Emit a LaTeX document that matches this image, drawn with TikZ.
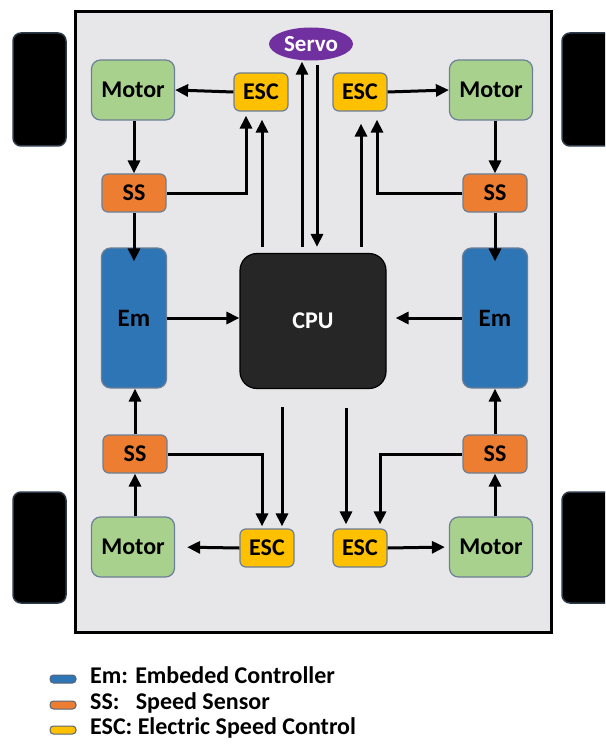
\documentclass[tikz,border=0pt]{standalone}
\usepackage{fontspec}
\setmainfont{Carlito}
\usetikzlibrary{arrows.meta,shapes.geometric,calc}
\definecolor{bgc}{HTML}{E7E6E8}
\definecolor{motc}{HTML}{A9D18E}
\definecolor{escc}{HTML}{FFC000}
\definecolor{ssc}{HTML}{ED7D31}
\definecolor{emc}{HTML}{2E75B6}
\definecolor{cpuc}{HTML}{262626}
\definecolor{servoc}{HTML}{7030A0}
\definecolor{edgec}{HTML}{6C7F96}
\definecolor{wheelb}{HTML}{2C3A4A}
\tikzset{
  box/.style={draw=edgec, line width=1.2pt, rounded corners=6pt, inner sep=0pt, font=\bfseries\fontsize{24}{28}\selectfont},
  motbox/.style={box, fill=motc, minimum width=83pt, minimum height=60pt, rounded corners=9pt},
  escbox/.style={box, fill=escc, minimum width=54pt, minimum height=38pt},
  ssbox/.style={box, fill=ssc, minimum width=64pt, minimum height=38pt},
  embox/.style={box, fill=emc, minimum width=65pt, minimum height=140pt, rounded corners=9pt, font=\bfseries\fontsize{25}{28}\selectfont},
  wheel/.style={draw=wheelb, line width=1.5pt, fill=black, rounded corners=8pt},
  arr/.style={line width=3pt, -{Triangle[length=13pt,width=12pt]}},
  swatch/.style={draw=edgec!80!black, line width=1pt, rounded corners=3.5pt, minimum width=26pt, minimum height=8pt, inner sep=0pt},
  legtext/.style={anchor=west, inner sep=0pt, font=\bfseries\fontsize{24}{28}\selectfont}
}
\begin{document}
\begin{tikzpicture}[x=1pt,y=-1pt]
\clip (0,0) rectangle (605,746);
\fill[white] (0,0) rectangle (605,746);
% wheels
\draw[wheel] (13,33) rectangle (66,146);
\draw[wheel] (562,33) rectangle (625,146);
\draw[wheel] (13,492) rectangle (66,603);
\draw[wheel] (562,492) rectangle (625,603);
% frame
\draw[line width=3pt, fill=bgc] (75.5,11.5) rectangle (551.5,632.5);
% nodes
\node[ellipse, fill=servoc, minimum width=84pt, minimum height=33pt, inner sep=0pt, text=white, font=\bfseries\fontsize{23}{26}\selectfont] (servo) at (311,44) {Servo};
\node[box, fill=cpuc, draw=black, minimum width=146pt, minimum height=135pt, rounded corners=17pt, text=white] (cpu) at (313,321) {CPU};
\node[motbox] (motTL) at (133,90) {Motor};
\node[escbox] (escTL) at (261,92) {ESC};
\node[ssbox] (ssTL) at (134,193) {SS};
\node[embox] (emL) at (134,318) {Em};
\node[motbox] (motTR) at (491,90) {Motor};
\node[escbox] (escTR) at (360,92) {ESC};
\node[ssbox] (ssTR) at (495,193) {SS};
\node[embox] (emR) at (495,318) {Em};
\node[ssbox] (ssBL) at (135,454) {SS};
\node[motbox] (motBL) at (133,547) {Motor};
\node[escbox] (escBL) at (267,548) {ESC};
\node[escbox] (escBR) at (360,548) {ESC};
\node[ssbox] (ssBR) at (495,454) {SS};
\node[motbox] (motBR) at (491,547) {Motor};
% helper coordinates
\coordinate (tl1) at ([xshift=-15pt]escTL.south);
\coordinate (tl2) at ([xshift=1pt]escTL.south);
\coordinate (tr1) at ([xshift=1pt]escTR.south);
\coordinate (tr2) at ([xshift=17pt]escTR.south);
\coordinate (sv1) at ([xshift=-9pt]servo.south);
\coordinate (sv2) at ([xshift=6pt]servo.south);
\coordinate (bl1) at ([xshift=-5pt]escBL.north);
\coordinate (bl2) at ([xshift=15pt]escBL.north);
\coordinate (br1) at ([xshift=-14pt]escBR.north);
\coordinate (br2) at ([xshift=20pt]escBR.north);
\coordinate (cl) at (motTL.south -| ssTL);
\coordinate (cr) at (motTR.south -| ssTR);
% top-left
\draw[arr] (escTL.west) -- (motTL.east);
\draw[arr] (cl) -- (ssTL.north);
\draw[arr, shorten >=4pt] (ssTL.east) -| (tl1);
\draw[arr, shorten <=6pt, shorten >=8pt] (tl2 |- cpu.north) -- (tl2);
\draw[arr, shorten >=-14pt] (ssTL.south) -- (ssTL.south |- emL.north);
% servo
\draw[arr, shorten <=6pt, shorten >=1pt] (sv1 |- cpu.north) -- (sv1);
\draw[arr, shorten <=4pt, shorten >=6pt] (sv2) -- (sv2 |- cpu.north);
% top-right
\draw[arr] (escTR.east) -- (motTR.west);
\draw[arr] (cr) -- (ssTR.north);
\draw[arr, shorten >=8pt] (ssTR.west) -| (tr2);
\draw[arr, shorten <=6pt, shorten >=12pt] (tr1 |- cpu.north) -- (tr1);
\draw[arr, shorten >=-14pt] (ssTR.south) -- (ssTR.south |- emR.north);
% Em to CPU
\draw[arr] (emL.east) -- (emL.east -| cpu.west);
\draw[arr, shorten >=9pt] (emR.west) -- (emR.west -| cpu.east);
% bottom-left
\draw[arr] (motBL.north -| ssBL) -- (ssBL.south);
\draw[arr] (ssBL.north) -- (ssBL.north |- emL.south);
\draw[arr, shorten >=2pt] (ssBL.east) -| (bl1);
\draw[arr, shorten <=18pt, shorten >=2pt] (bl2 |- cpu.south) -- (bl2);
\draw[arr, shorten >=12pt] (escBL.west) -- (motBL.east);
% bottom-right
\draw[arr] (motBR.north -| ssBR) -- (ssBR.south);
\draw[arr] (ssBR.north) -- (ssBR.north |- emR.south);
\draw[arr, shorten >=4pt] (ssBR.west) -| (br2);
\draw[arr, shorten <=19pt, shorten >=4pt] (br1 |- cpu.south) -- (br1);
\draw[arr, shorten >=4pt] (escBR.east) -- (motBR.west);
% legend
\node[swatch, fill=emc] (lg1) at (63,679) {};
\node[swatch, fill=ssc] (lg2) at (63,705) {};
\node[swatch, fill=escc] (lg3) at (63,730) {};
\node[legtext] (lt1) at (90,675) {Em: Embeded Controller};
\node[legtext] (lt2) at (90,703) {SS:\ \ \ Speed Sensor};
\node[legtext] (lt3) at (90,728) {ESC: Electric Speed Control};
\end{tikzpicture}
\end{document}
